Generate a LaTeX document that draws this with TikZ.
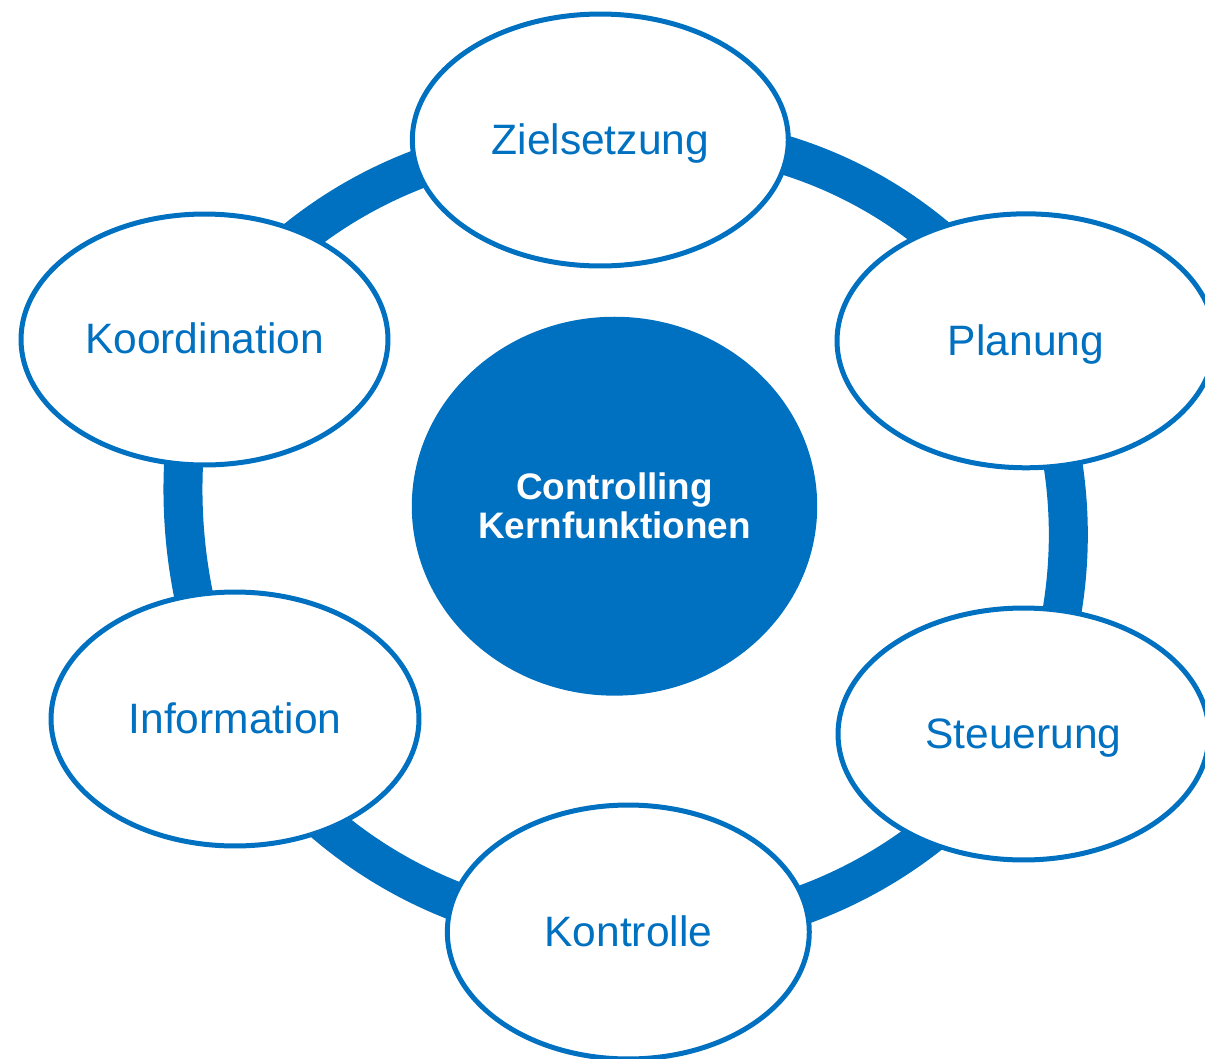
\documentclass[tikz,border=0pt]{standalone}
\usepackage{fontspec}
\setmainfont{Liberation Sans}
\usetikzlibrary{shapes.geometric,backgrounds}
\definecolor{cblue}{HTML}{0070C0}
\begin{document}
\begin{tikzpicture}[x=0.02cm,y=0.02cm,
  func/.style={ellipse, draw=cblue, line width=0.1cm, fill=white, inner sep=0pt,
    text=cblue, font=\fontsize{24.2}{26}\selectfont, text height=16.2pt, text depth=0pt},
  corenode/.style={ellipse, fill=cblue, draw=none, inner sep=0pt, text=white,
    font=\fontsize{21}{22.1}\selectfont\bfseries, align=center},
  ringseg/.style={draw=cblue, line width=0.78cm}]
\useasboundingbox (0,0) rectangle (1205,-1059);
% functions
\node[func, minimum width=7.52cm, minimum height=5.04cm] (ziel) at (600.3,-140) {Zielsetzung};
\node[func, minimum width=7.56cm, minimum height=5.08cm] (plan) at (1026,-340.8) {Planung};
\node[func, minimum width=7.42cm, minimum height=5.04cm] (steu) at (1023.5,-734) {Steuerung};
\node[func, minimum width=7.24cm, minimum height=5.08cm] (kont) at (628.3,-932) {Kontrolle};
\node[func, minimum width=7.36cm, minimum height=5.08cm] (info) at (235,-719) {Information};
\node[func, minimum width=7.34cm, minimum height=5.02cm] (koord) at (204.5,-339.5) {Koordination};
% centre
\node[corenode, minimum width=8.11cm, minimum height=7.58cm] (core) at (614.5,-506.2) {Controlling\\Kernfunktionen};
% ring segments
\begin{pgfonlayer}{background}
\draw[ringseg] (ziel.center) to[bend left=33, looseness=0.926] (plan.center);
\draw[ringseg] (plan.center) to[bend left=25, looseness=0.893] (steu.center);
\draw[ringseg] (steu.center) to[bend left=29, looseness=0.908] (kont.center);
\draw[ringseg] (kont.center) to[bend left=29.5, looseness=0.910] (info.center);
\draw[ringseg] (info.center) to[bend left=21, looseness=0.881] (koord.center);
\draw[ringseg] (koord.center) to[bend left=29.5, looseness=0.910] (ziel.center);
\end{pgfonlayer}
\end{tikzpicture}
\end{document}
